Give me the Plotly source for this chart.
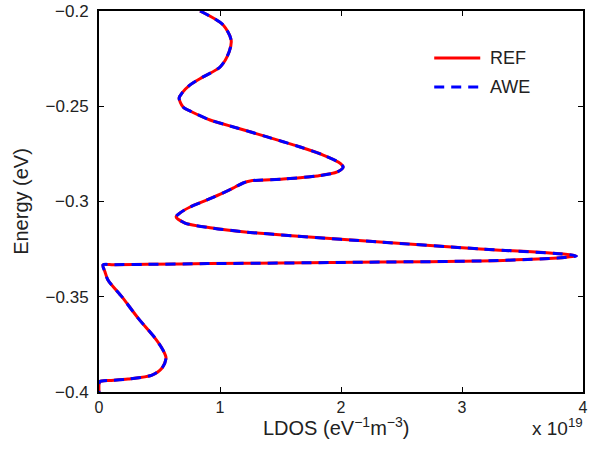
import plotly.graph_objects as go

# LDOS in units of 1e19 eV^-1 m^-3, energy in eV
ldos = [0.835, 1.026, 1.092, 1.075, 1.001, 0.860, 0.753, 0.687, 0.662, 0.695,
        0.769, 0.918, 1.141, 1.390, 1.663, 1.853, 1.977, 2.018, 1.969, 1.803,
        1.522, 1.249, 1.191, 1.125, 1.026, 0.893, 0.753, 0.670, 0.637, 0.711,
        0.935, 1.208, 1.621, 2.324, 3.151, 3.838, 3.945, 3.788, 3.151, 2.324,
        1.497, 0.900, 0.400, 0.120, 0.033, 0.050, 0.074, 0.190, 0.323, 0.463,
        0.529, 0.554, 0.521, 0.438, 0.240, 0.100, 0.025, 0.005, 0.0, 0.0]
energy = [-0.2000, -0.2073, -0.2152, -0.2215, -0.2294, -0.2346, -0.2388, -0.2430, -0.2457, -0.2504,
          -0.2530, -0.2572, -0.2614, -0.2661, -0.2714, -0.2756, -0.2793, -0.2819, -0.2845, -0.2866,
          -0.2882, -0.2892, -0.2903, -0.2924, -0.2955, -0.2992, -0.3029, -0.3060, -0.3081, -0.3113,
          -0.3139, -0.3160, -0.3181, -0.3213, -0.3249, -0.3276, -0.3286, -0.3297, -0.3312, -0.3318,
          -0.3323, -0.3326, -0.3330, -0.3332, -0.3333, -0.3370, -0.3412, -0.3501, -0.3612, -0.3717,
          -0.3780, -0.3822, -0.3874, -0.3911, -0.3932, -0.3939, -0.3942, -0.3946, -0.3960, -0.4000]

series_names = ["REF", "AWE"]
series_colors = ["#ff0000", "#0000ff"]
series_dash = ["solid", "10px,7px"]

x_ticks = [0, 1, 2, 3, 4]
y_ticks = [-0.4, -0.35, -0.3, -0.25, -0.2]
y_labels = ["\u22120.4", "\u22120.35", "\u22120.3", "\u22120.25", "\u22120.2"]

font_family = "Liberation Sans, Arial, Helvetica, sans-serif"
txt_color = "#222"

fig = go.Figure()
for name, col, dash in zip(series_names, series_colors, series_dash):
    fig.add_trace(go.Scatter(x=ldos, y=energy, mode="lines", name=name,
                             line=dict(color=col, width=3, dash=dash,
                                       shape="spline", smoothing=0.8),
                             showlegend=False))

axis_common = dict(showgrid=False, zeroline=False, showline=True, linecolor="black",
                   linewidth=2, ticks="inside", ticklen=5, tickwidth=1.3,
                   tickcolor="black", mirror="ticks", automargin=False)

fig.update_xaxes(range=[0, 4], tickvals=x_ticks, **axis_common, ticklabelstandoff=0,
                 tickfont=dict(family=font_family, size=16, color=txt_color))
fig.update_yaxes(range=[-0.4, -0.2], tickvals=y_ticks, ticktext=y_labels, **axis_common,
                 ticklabelstandoff=5,
                 tickfont=dict(family=font_family, size=17, color=txt_color),
                 title=dict(text="Energy (eV)",
                            font=dict(family=font_family, size=20, color=txt_color),
                            standoff=12))

# x-axis title and exponent label on the same line below the tick labels
fig.add_annotation(text="LDOS (eV<sup>\u22121</sup>m<sup>\u22123</sup>)",
                   xref="paper", yref="paper", x=0.49, y=-0.091,
                   xanchor="center", yanchor="middle", showarrow=False,
                   font=dict(family=font_family, size=20, color=txt_color))
fig.add_annotation(text="x 10<sup>19</sup>", xref="paper", yref="paper",
                   x=1.005, y=-0.092, xanchor="right", yanchor="middle", showarrow=False,
                   font=dict(family=font_family, size=19, color=txt_color))

# legend drawn inside the axes (line samples + labels)
leg_y = [0.8766, 0.8005]
for name, col, dash, yy in zip(series_names, series_colors, series_dash, leg_y):
    fig.add_shape(type="line", xref="paper", yref="paper",
                  x0=0.6926, x1=0.7877, y0=yy, y1=yy,
                  line=dict(color=col, width=3, dash=dash))
    fig.add_annotation(text=name, xref="paper", yref="paper", x=0.804, y=yy,
                       xanchor="left", yanchor="middle", showarrow=False,
                       font=dict(family=font_family, size=18, color=txt_color))

fig.update_layout(
    width=599, height=455,
    margin=dict(l=99, r=16, t=11, b=63),
    plot_bgcolor="white", paper_bgcolor="white",
    showlegend=False,
)

fig.write_html("out.html")
